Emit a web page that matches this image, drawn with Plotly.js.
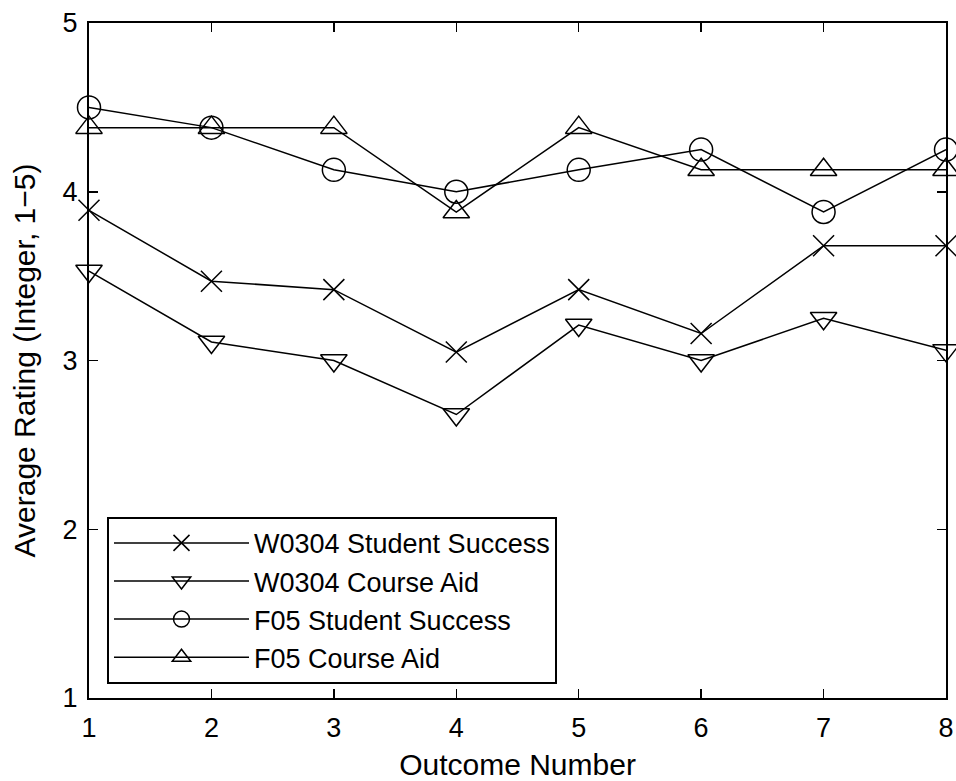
<!DOCTYPE html>
<html>
<head>
<meta charset="utf-8">
<script src="https://cdn.plot.ly/plotly-3.0.1.min.js"></script>
<style>html,body{margin:0;padding:0;background:#fff;}#chart{width:956px;height:781px;}</style>
</head>
<body>
<div id="chart"></div>
<script>
const outcomes = [1, 2, 3, 4, 5, 6, 7, 8];
const w0304Success = [3.89, 3.47, 3.42, 3.05, 3.42, 3.16, 3.68, 3.68];
const w0304CourseAid = [3.53, 3.11, 3.00, 2.68, 3.21, 3.00, 3.25, 3.06];
const f05Success = [4.50, 4.38, 4.13, 4.00, 4.13, 4.25, 3.88, 4.25];
const f05CourseAid = [4.38, 4.38, 4.38, 3.88, 4.38, 4.13, 4.13, 4.13];
const seriesNames = ["W0304 Student Success", "W0304 Course Aid", "F05 Student Success", "F05 Course Aid"];
const xTickLabels = ["1", "2", "3", "4", "5", "6", "7", "8"];
const yTickVals = [1, 2, 3, 4, 5];
const yTickLabels = ["1", "2", "3", "4", "5"];

const font = "Liberation Sans, Arial, Helvetica, sans-serif";
function mk(y, name, symbol, size) {
  return {
    x: outcomes, y: y, name: name, type: "scatter", mode: "lines+markers",
    cliponaxis: false,
    line: {color: "black", width: 1.5},
    marker: {symbol: symbol, size: size, color: "black", line: {color: "black", width: 1.5}}
  };
}
const traces = [
  mk(w0304Success, seriesNames[0], "x-thin-open", 21),
  mk(w0304CourseAid, seriesNames[1], "triangle-down-open", 23),
  mk(f05Success, seriesNames[2], "circle-open", 23),
  mk(f05CourseAid, seriesNames[3], "triangle-up-open", 23)
];
const layout = {
  width: 956, height: 781,
  paper_bgcolor: "white", plot_bgcolor: "white",
  margin: {l: 89, r: 10, t: 23, b: 83},
  font: {family: font, size: 27, color: "black"},
  showlegend: true,
  legend: {
    x: 0.021, y: 0.021, xanchor: "left", yanchor: "bottom",
    bgcolor: "white", bordercolor: "black", borderwidth: 2,
    font: {family: font, size: 27, color: "black"},
    itemwidth: 135, tracegroupgap: 0
  },
  xaxis: {
    range: [1, 8], tickvals: outcomes, ticktext: xTickLabels,
    ticks: "inside", ticklen: 9, tickwidth: 1.5, tickcolor: "black",
    showline: true, linecolor: "black", linewidth: 2, mirror: "ticks",
    showgrid: false, zeroline: false, ticklabelstandoff: 5,
    tickfont: {family: font, size: 27, color: "black"},
    title: {text: "Outcome Number", font: {family: font, size: 30, color: "black"}, standoff: 14}
  },
  yaxis: {
    range: [1, 5], tickvals: yTickVals, ticktext: yTickLabels,
    ticks: "inside", ticklen: 9, tickwidth: 1.5, tickcolor: "black",
    showline: true, linecolor: "black", linewidth: 2, mirror: "ticks",
    showgrid: false, zeroline: false, ticklabelstandoff: 4,
    tickfont: {family: font, size: 27, color: "black"},
    title: {text: "Average Rating (Integer, 1\u22125)", font: {family: font, size: 30, color: "black"}, standoff: 18}
  }
};
Plotly.newPlot("chart", traces, layout, {displayModeBar: false, staticPlot: true});
</script>
</body>
</html>
